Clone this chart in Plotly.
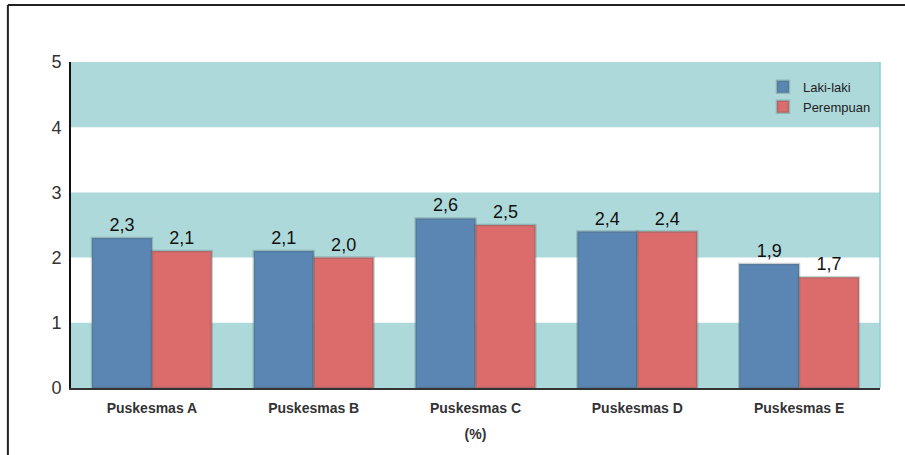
import plotly.graph_objects as go

categories = ["Puskesmas A", "Puskesmas B", "Puskesmas C", "Puskesmas D", "Puskesmas E"]
laki = [2.3, 2.1, 2.6, 2.4, 1.9]
perempuan = [2.1, 2.0, 2.5, 2.4, 1.7]
y_ticks = [0, 1, 2, 3, 4, 5]
bands = [(0, 1), (2, 3), (4, 5)]

BLUE = "#5b86b4"
RED = "#dc6b6b"
TEAL = "#aed9da"
SHADOW = "rgba(70,95,95,0.28)"


def fmt(v):
    return f"{v:.1f}".replace(".", ",")


fig = go.Figure()
for name, vals, col in [("Laki-laki", laki, BLUE), ("Perempuan", perempuan, RED)]:
    fig.add_trace(go.Bar(
        name=name, x=categories, y=vals,
        marker=dict(color=col, line=dict(color=SHADOW, width=2.5)),
        text=[fmt(v) for v in vals], textposition="outside",
        textfont=dict(family="Liberation Sans, Arial", size=18, color="#111"),
        cliponaxis=False,
    ))

shapes = []
for lo, hi in bands:
    shapes.append(dict(type="rect", xref="paper", yref="y", x0=0, x1=1, y0=lo, y1=hi,
                       fillcolor=TEAL, line=dict(width=0), layer="below"))
# right edge of the plot area
shapes.append(dict(type="line", xref="paper", yref="paper", x0=1, x1=1, y0=0, y1=1,
                   line=dict(color="#8ccfcf", width=1.5)))
# outer frame (top and left edges)
shapes.append(dict(type="line", xref="paper", yref="paper", x0=-0.078, x1=1.1, y0=1.175, y1=1.175,
                   line=dict(color="#222", width=2)))
shapes.append(dict(type="line", xref="paper", yref="paper", x0=-0.078, x1=-0.078, y0=1.175, y1=-0.3,
                   line=dict(color="#222", width=2)))

fig.update_layout(
    width=905, height=455,
    margin=dict(l=71, r=25, t=62, b=67),
    paper_bgcolor="white", plot_bgcolor="white",
    barmode="group", bargap=0.26, bargroupgap=0,
    shapes=shapes,
    font=dict(family="Liberation Sans, Arial", color="#333"),
    legend=dict(x=0.995, xanchor="right", y=0.97, yanchor="top",
                bgcolor="rgba(0,0,0,0)", font=dict(size=13, color="#222"),
                itemwidth=30, tracegroupgap=0),
    xaxis=dict(
        showline=True, linecolor="#333", linewidth=2,
        tickfont=dict(size=14, color="#333", family="Liberation Sans, Arial"),
        ticklabelstandoff=6,
        title=dict(text="<b>(%)</b>", font=dict(size=14, color="#333"), standoff=14),
        tickprefix="<b>", ticksuffix="</b>",
    ),
    yaxis=dict(
        range=[0, 5], tickvals=y_ticks, showgrid=False, zeroline=False,
        showline=True, linecolor="#111", linewidth=2,
        tickfont=dict(size=18, color="#333"),
        ticks="", ticklabelstandoff=4,
    ),
)

fig.write_html("out.html")
